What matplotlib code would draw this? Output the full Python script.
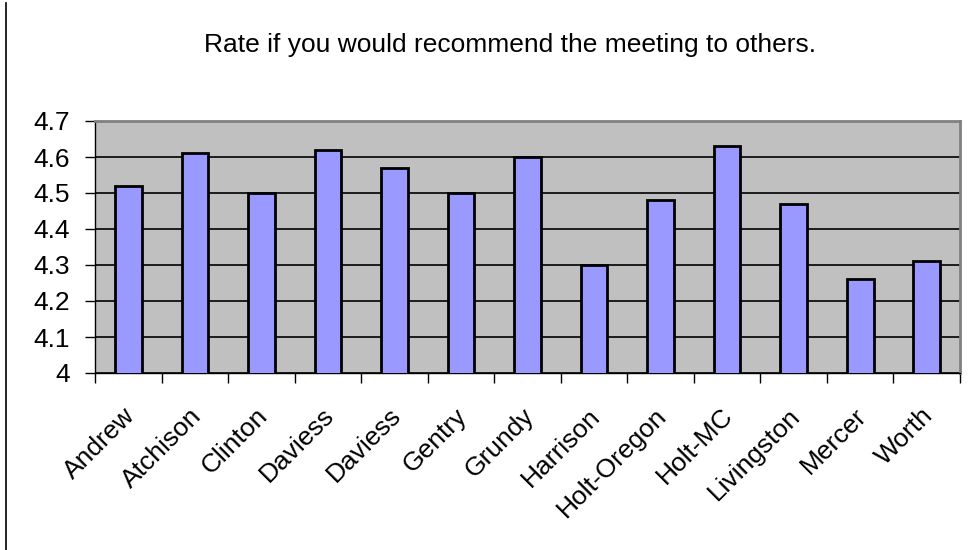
import numpy as np
import matplotlib.pyplot as plt
import matplotlib.transforms as mtransforms
from matplotlib.lines import Line2D

plt.rcParams['font.family'] = ['Liberation Sans', 'DejaVu Sans']

counties = ['Andrew', 'Atchison', 'Clinton', 'Daviess', 'Daviess', 'Gentry', 'Grundy',
            'Harrison', 'Holt-Oregon', 'Holt-MC', 'Livingston', 'Mercer', 'Worth']
ratings = [4.52, 4.61, 4.50, 4.62, 4.57, 4.50, 4.60, 4.30, 4.48, 4.63, 4.47, 4.26, 4.31]
yticks = [4, 4.1, 4.2, 4.3, 4.4, 4.5, 4.6, 4.7]
ylabels = ['4', '4.1', '4.2', '4.3', '4.4', '4.5', '4.6', '4.7']

fig = plt.figure(figsize=(9.79, 5.5), dpi=100)
ax = fig.add_axes([95 / 979, 1 - 373 / 550, 865 / 979, 252 / 550])
ax.set_facecolor('#C0C0C0')

x = np.arange(len(counties))
ax.bar(x, ratings, width=0.4, color='#9999FF', edgecolor='black', linewidth=2, zorder=3)

ax.set_xlim(-0.5, len(counties) - 0.5)
ax.set_ylim(4, 4.7)
ax.set_yticks(yticks)
ax.set_yticklabels(ylabels, fontsize=19)
ax.yaxis.grid(True, color='black', linewidth=1.2, zorder=1)

# ticks at category boundaries, labels at centres
ax.set_xticks(np.arange(len(counties) + 1) - 0.5)
ax.set_xticklabels([])
ax.set_xticks(x, minor=True)
ax.set_xticklabels(counties, minor=True, rotation=45, ha='right', va='top',
                   rotation_mode='anchor', fontsize=19)
ax.tick_params(axis='x', which='minor', length=0, pad=22)
ax.tick_params(axis='x', which='major', length=7, width=1, direction='out')
ax.tick_params(axis='y', length=7, width=1, direction='out', pad=11)

shift = mtransforms.ScaledTranslation(-6 / 100, 0, fig.dpi_scale_trans)
for lab in ax.get_xticklabels(minor=True):
    lab.set_transform(lab.get_transform() + shift)

for s in ['top', 'right']:
    ax.spines[s].set_color('#808080')
    ax.spines[s].set_linewidth(2)
ax.spines['left'].set_linewidth(1)
ax.spines['bottom'].set_linewidth(1)

fig.text(510 / 979, 1 - 45 / 550, 'Rate if you would recommend the meeting to others.',
         ha='center', va='center', fontsize=19)

fig.add_artist(Line2D([6 / 979, 6 / 979], [0, 1 - 3 / 550], color='black', linewidth=1.2,
                      transform=fig.transFigure))

fig.savefig('out.png', dpi=100)
